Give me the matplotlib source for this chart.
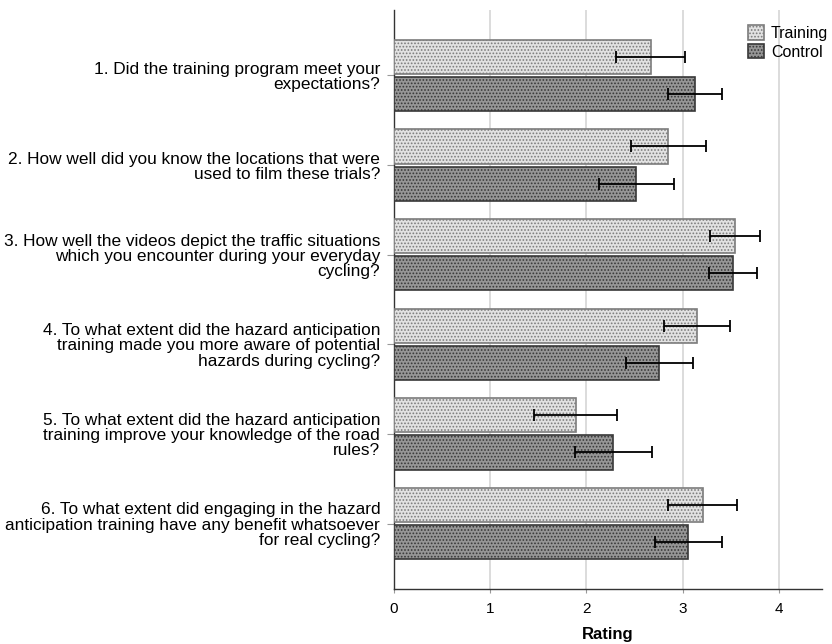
import matplotlib
matplotlib.use('Agg')
import matplotlib.pyplot as plt
import numpy as np

questions = [
    "1. Did the training program meet your\nexpectations?",
    "2. How well did you know the locations that were\nused to film these trials?",
    "3. How well the videos depict the traffic situations\nwhich you encounter during your everyday\ncycling?",
    "4. To what extent did the hazard anticipation\ntraining made you more aware of potential\nhazards during cycling?",
    "5. To what extent did the hazard anticipation\ntraining improve your knowledge of the road\nrules?",
    "6. To what extent did engaging in the hazard\nanticipation training have any benefit whatsoever\nfor real cycling?",
]
training_mean = [2.67, 2.85, 3.55, 3.15, 1.89, 3.21]
training_err = [0.36, 0.39, 0.26, 0.34, 0.43, 0.36]
control_mean = [3.13, 2.52, 3.52, 2.76, 2.28, 3.06]
control_err = [0.28, 0.39, 0.25, 0.35, 0.40, 0.35]
x_ticks = [0, 1, 2, 3, 4]

plt.rcParams['font.family'] = ['Liberation Sans', 'DejaVu Sans']
plt.rcParams['hatch.linewidth'] = 0.8

fig = plt.figure(figsize=(8.32, 6.44), dpi=100)
ax = fig.add_axes([0.4736, 0.0854, 0.5144, 0.8991])

y = np.arange(len(questions))
h = 0.38
off = 0.207
err_kw = dict(ecolor='black', elinewidth=1.3, capsize=4.5, capthick=1.3)

ax.barh(y - off, training_mean, height=h, xerr=training_err, color='#e2e2e2',
        edgecolor='#7c7c7c', hatch='.....', linewidth=1.2, label='Training',
        error_kw=err_kw, zorder=3)
ax.barh(y + off, control_mean, height=h, xerr=control_err, color='#969696',
        edgecolor='#383838', hatch='.....', linewidth=1.2, label='Control',
        error_kw=err_kw, zorder=3)

ax.set_ylim(5.73, -0.73)
ax.set_xlim(0, 4.45)
ax.set_yticks(y)
ax.set_yticklabels(questions, fontsize=12.4, linespacing=1.02)
ax.set_xticks(x_ticks)
ax.tick_params(axis='x', labelsize=11, length=3, color='#999999', pad=6)
ax.tick_params(axis='y', length=5, color='#999999', pad=5)
ax.grid(axis='x', color='#dcdcdc', linewidth=1.4, zorder=0)
ax.set_axisbelow(True)
for s in ['top', 'right']:
    ax.spines[s].set_visible(False)
for s in ['left', 'bottom']:
    ax.spines[s].set_color('#333333')
    ax.spines[s].set_linewidth(1.0)

ax.set_xlabel('Rating', fontsize=12, fontweight='bold', labelpad=8)

fig.legend(loc='upper right', bbox_to_anchor=(1.0, 0.967), frameon=False,
           fontsize=11.5, handlelength=1.0, handleheight=1.0,
           handletextpad=0.45, labelspacing=0.2, borderaxespad=0.05,
           borderpad=0.2)

plt.savefig('out.png', dpi=100)
plt.close()
